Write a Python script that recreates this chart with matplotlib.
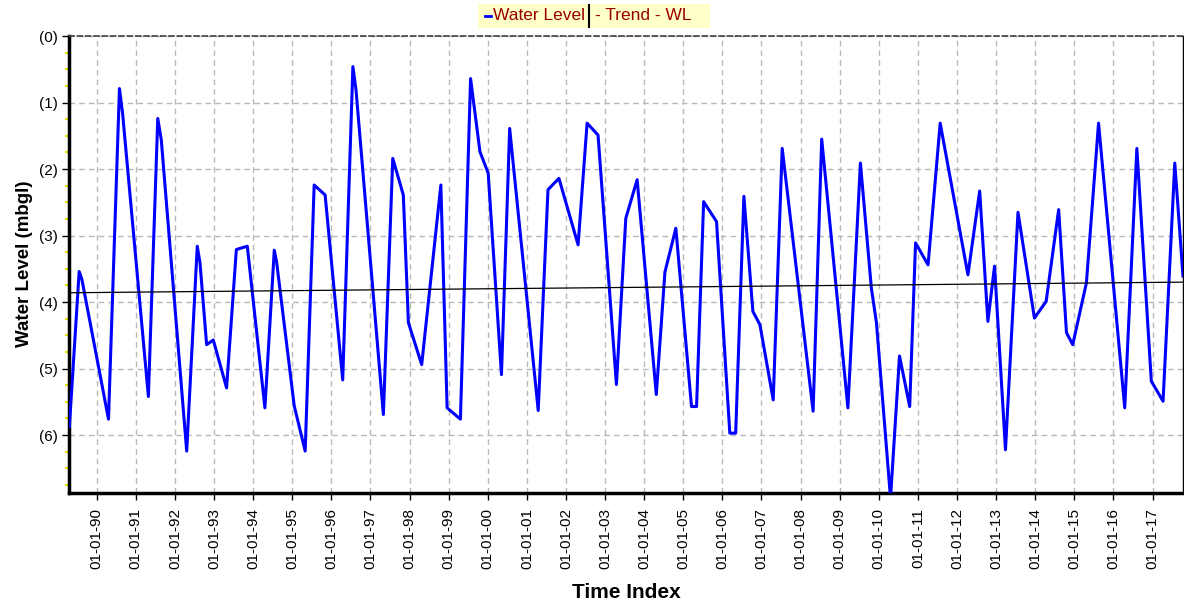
import matplotlib
matplotlib.use("Agg")
import matplotlib.pyplot as plt
from matplotlib.ticker import MultipleLocator
from matplotlib.patches import Rectangle
from matplotlib.lines import Line2D

plt.rcParams['font.family'] = ['Liberation Sans', 'DejaVu Sans']

# time index in decimal years, water level in m below ground level
years = [1989.30, 1989.55, 1989.62, 1990.30, 1990.58, 1990.66, 1991.32, 1991.56, 1991.65,
         1992.30, 1992.57, 1992.64, 1992.81, 1992.98, 1993.32, 1993.57, 1993.85, 1994.30,
         1994.54, 1994.60, 1995.05, 1995.33, 1995.56, 1995.84, 1996.29, 1996.55, 1996.63,
         1997.33, 1997.57, 1997.84, 1997.97, 1998.31, 1998.80, 1998.96, 1999.30, 1999.56,
         1999.80, 2000.01, 2000.35, 2000.56, 2000.63, 2001.29, 2001.54, 2001.82, 2002.31,
         2002.54, 2002.82, 2003.29, 2003.53, 2003.82, 2004.31, 2004.53, 2004.81, 2005.21,
         2005.34, 2005.52, 2005.85, 2006.19, 2006.34, 2006.55, 2006.78, 2006.96, 2007.30,
         2007.53, 2008.32, 2008.54, 2009.21, 2009.53, 2009.81, 2009.94, 2010.30, 2010.53,
         2010.79, 2010.94, 2011.26, 2011.57, 2012.28, 2012.58, 2012.79, 2012.96, 2013.24,
         2013.56, 2013.98, 2014.28, 2014.60, 2014.80, 2014.96, 2015.31, 2015.62, 2016.29,
         2016.60, 2016.97, 2017.27, 2017.57, 2017.78]
wl = [5.87, 3.54, 3.66, 5.76, 0.79, 1.16, 5.42, 1.24, 1.56,
      6.24, 3.16, 3.41, 4.64, 4.57, 5.29, 3.21, 3.16, 5.59,
      3.22, 3.40, 5.56, 6.24, 2.24, 2.39, 5.17, 0.46, 0.81,
      5.69, 1.84, 2.39, 4.31, 4.94, 2.24, 5.59, 5.76, 0.64,
      1.74, 2.06, 5.09, 1.39, 1.80, 5.63, 2.31, 2.14, 3.14,
      1.31, 1.49, 5.24, 2.74, 2.16, 5.39, 3.55, 2.89, 5.57,
      5.57, 2.49, 2.79, 5.97, 5.97, 2.41, 4.14, 4.34, 5.47,
      1.69, 5.64, 1.55, 5.59, 1.91, 3.79, 4.31, 6.95, 4.81,
      5.57, 3.11, 3.44, 1.31, 3.59, 2.33, 4.29, 3.46, 6.22,
      2.65, 4.24, 3.99, 2.61, 4.46, 4.64, 3.71, 1.31, 5.59,
      1.69, 5.19, 5.49, 1.91, 3.61]

trend_years = [1989.29, 2017.78]
trend_wl = [3.86, 3.70]

tick_years = list(range(1990, 2018))
tick_labels = ["01-01-%02d" % (y % 100) for y in tick_years]
level_ticks = [0, 1, 2, 3, 4, 5, 6]
level_labels = ["(%d)" % v for v in level_ticks]

W, H = 1184, 605
fig = plt.figure(figsize=(W / 100, H / 100), dpi=100)
ax = fig.add_axes([69 / W, 1 - 493 / H, (1183 - 69) / W, (493 - 36) / H])

ax.plot(years, wl, color='#0000FF', lw=2.2, zorder=3)
ax.plot(trend_years, trend_wl, color='black', lw=0.9, zorder=4)

ax.set_xlim(1989.29, 2017.78)
ax.set_ylim(6.87, 0)
ax.set_xticks(tick_years)
ax.set_xticklabels(tick_labels, rotation=90, fontsize=11)
ax.set_yticks(level_ticks)
ax.set_yticklabels(level_labels, fontsize=11)
ax.yaxis.set_minor_locator(MultipleLocator(0.25))
ax.tick_params(axis='y', which='minor', color='#E6E600', length=3, width=1.5, direction='out')
ax.tick_params(axis='both', which='major', length=5, width=1, color='black', pad=3)
ax.tick_params(axis='x', which='major', pad=6)

ax.grid(True, which='major', color='#B8B8B8', linestyle=(0, (4, 3)), lw=1)
ax.spines['left'].set_linewidth(2.5)
ax.spines['bottom'].set_linewidth(2.5)
ax.spines['right'].set_linewidth(1)
ax.spines['top'].set_linewidth(1.2)
ax.spines['top'].set_linestyle((0, (3, 2)))
ax.spines['top'].set_color('#404040')

fig.text(25 / W, 1 - 264 / H, "Water Level (mbgl)", rotation=90, ha='center', va='center',
         fontsize=13.5, fontweight='bold')
fig.text(626 / W, 1 - 592 / H, "Time Index", ha='center', va='center',
         fontsize=15, fontweight='bold')

# legend strip at the top
fig.patches.append(Rectangle((478 / W, 1 - 28 / H), (710 - 478) / W, 24 / H,
                             transform=fig.transFigure, facecolor='#FFFFC8', edgecolor='none'))
fig.lines.append(Line2D([485 / W, 491 / W], [1 - 16 / H, 1 - 16 / H], transform=fig.transFigure,
                        color='#0000FF', lw=2))
fig.text(493 / W, 1 - 16 / H, "Water Level", ha='left', va='center', fontsize=12.5, color='#990000')
fig.lines.append(Line2D([589 / W, 589 / W], [1 - 5 / H, 1 - 27 / H], transform=fig.transFigure,
                        color='black', lw=1.5))
fig.text(595 / W, 1 - 16 / H, "- Trend - WL", ha='left', va='center', fontsize=12.5, color='#990000')

fig.savefig("out.png", dpi=100)
